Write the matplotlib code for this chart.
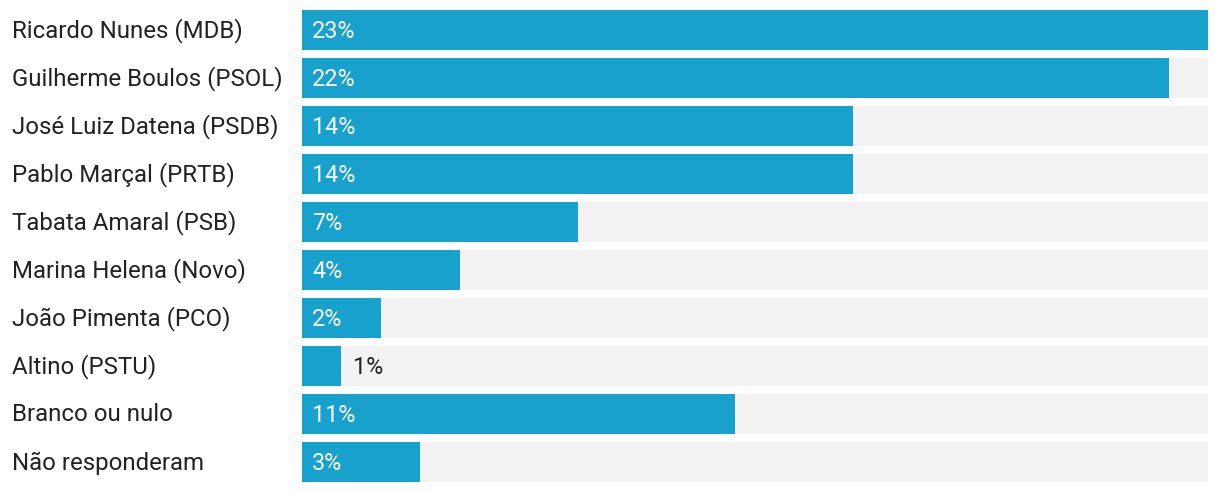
import matplotlib
matplotlib.use('Agg')
import matplotlib.pyplot as plt
from matplotlib.transforms import blended_transform_factory, offset_copy

candidates = [
    "Ricardo Nunes (MDB)",
    "Guilherme Boulos (PSOL)",
    "José Luiz Datena (PSDB)",
    "Pablo Marçal (PRTB)",
    "Tabata Amaral (PSB)",
    "Marina Helena (Novo)",
    "João Pimenta (PCO)",
    "Altino (PSTU)",
    "Branco ou nulo",
    "Não responderam",
]
values = [23, 22, 14, 14, 7, 4, 2, 1, 11, 3]

BLUE = '#18a1cd'
GRAY = '#f2f2f2'
TEXT = '#222222'

plt.rcParams['font.family'] = ['Roboto', 'DejaVu Sans']

W, H = 1220, 492
fig = plt.figure(figsize=(W / 100, H / 100), dpi=100)
ax = fig.add_axes([302 / W, 6 / H, 906 / W, 480 / H])

xmax = max(values)
rows = list(range(len(values)))
bh = 40 / 48

# background track, then value bar
ax.barh(rows, [xmax] * len(values), height=bh, color=GRAY, linewidth=0)
ax.barh(rows, values, height=bh, color=BLUE, linewidth=0)

ax.set_xlim(0, xmax)
ax.set_ylim(len(values) - 0.5, -0.5)
ax.axis('off')

# candidate names on the left
name_tr = offset_copy(blended_transform_factory(fig.transFigure, ax.transData),
                      fig=fig, x=0, y=-1, units='dots')
for i, name in enumerate(candidates):
    fig.text(12 / W, i, name, transform=name_tr, ha='left', va='center',
             fontsize=17.3, color=TEXT)

# percentage labels, inside the bar if it is wide enough
for i, v in enumerate(values):
    label = f"{v}%"
    if v >= 2:
        tr = offset_copy(ax.transData, fig=fig, x=10, y=-2, units='dots')
        ax.text(0, i, label, transform=tr, ha='left', va='center',
                fontsize=16.8, color='white')
    else:
        tr = offset_copy(ax.transData, fig=fig, x=12, y=-2, units='dots')
        ax.text(v, i, label, transform=tr, ha='left', va='center',
                fontsize=16.8, color=TEXT)

fig.savefig('out.png', dpi=100)
